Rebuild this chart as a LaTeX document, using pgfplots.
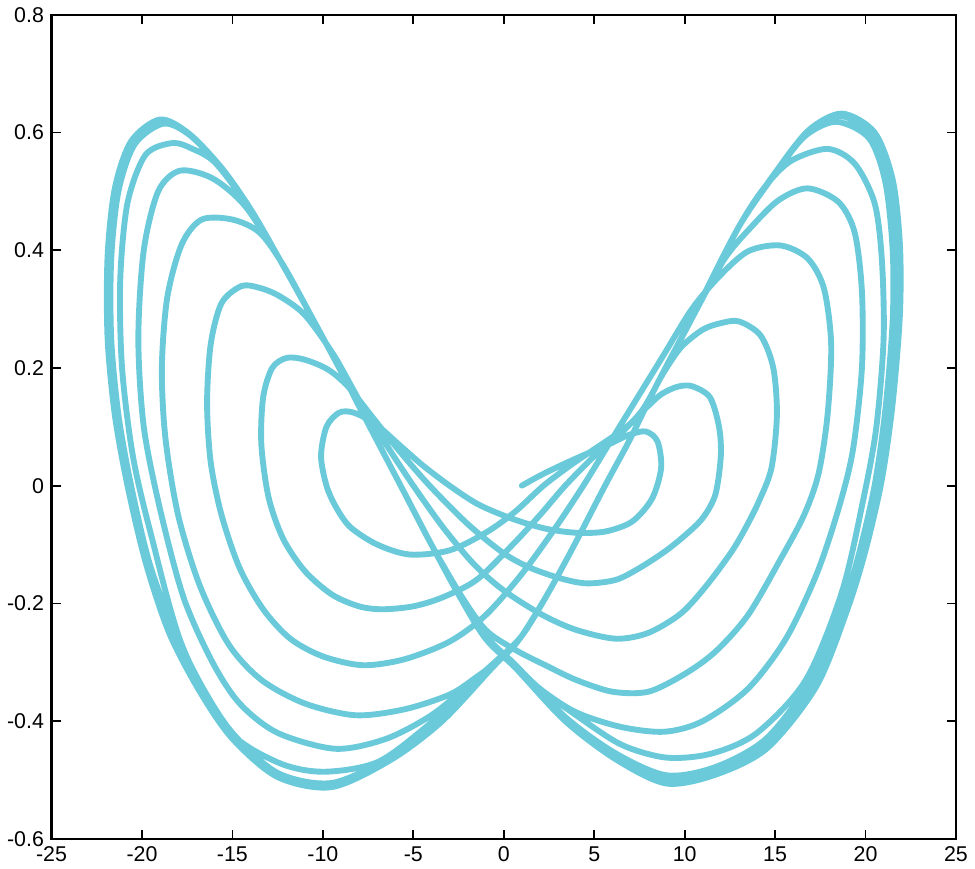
\documentclass[border=0pt]{standalone}
\usepackage{fontspec}
\setmainfont{Liberation Sans}
\usepackage{pgfplots}
\pgfplotsset{compat=1.18}
\definecolor{traj}{RGB}{106,202,218}

\begin{document}
\begin{tikzpicture}
\begin{axis}[
  scale only axis,
  width=14.87cm, height=13.55cm,
  xmin=-25, xmax=25, ymin=-0.6, ymax=0.8,
  xtick={-25,-20,...,25},
  ytick={-0.6,-0.4,...,0.8},
  axis line style={line width=1.1pt, black},
  major tick style={line width=0.8pt, black},
  major tick length=0.15cm,
  tick align=inside,
  tick label style={font=\fontsize{10}{12}\selectfont},
  /pgf/number format/assume math mode=true,
  yticklabel style={/pgf/number format/.cd, fixed, precision=1},
]
% trajectory, read off the picture loop by loop
\addplot[traj, line width=2.75pt, smooth, line join=round, line cap=round] coordinates {
% start and R1
(1.0,0.0) (2.0,0.017) (3.2,0.035) (4.5,0.053) (5.8,0.07) (6.9,0.086) (7.85,0.092) (8.5,0.075) (8.7,0.03) (8.2,-0.022) (7.1,-0.061) (5.6,-0.078) (4.0,-0.08) (2.3,-0.073) (0.45,-0.056) (-1.4,-0.032) (-3.0,0.0) (-4.5,0.035) (-5.8,0.07) (-7.1,0.105)
% L1
(-8.3,0.124) (-9.1,0.124) (-9.8,0.1) (-10.1,0.05) (-9.8,0.0) (-9.3,-0.035) (-8.5,-0.07) (-7.0,-0.1) (-5.2,-0.117) (-3.0,-0.11) (-1.0,-0.08) (0.6,-0.045) (2.2,0.0) (3.8,0.037) (5.4,0.07) (6.8,0.1) (7.8,0.13)
% R2
(8.7,0.155) (9.6,0.168) (10.4,0.169) (11.4,0.15) (11.9,0.1) (12.0,0.05) (11.7,-0.015) (11.0,-0.055) (10.0,-0.085) (8.9,-0.112) (7.5,-0.14) (6.2,-0.16) (4.6,-0.166) (3.2,-0.158) (1.5,-0.14) (0.0,-0.115) (-2.0,-0.065) (-4.1,0.0) (-5.8,0.06) (-7.3,0.118) (-8.6,0.168)
% L2
(-9.7,0.197) (-11.0,0.214) (-12.0,0.217) (-12.8,0.2) (-13.3,0.15) (-13.4,0.07) (-13.0,-0.02) (-12.2,-0.09) (-11.0,-0.145) (-9.5,-0.185) (-8.0,-0.205) (-6.7,-0.21) (-5.0,-0.205) (-3.4,-0.19) (-1.5,-0.16) (0.5,-0.1) (2.0,-0.05) (3.4,0.0) (5.0,0.05) (6.5,0.09) (7.7,0.13) (8.8,0.19)
% R3
(9.8,0.235) (11.0,0.265) (12.0,0.276) (13.0,0.279) (14.2,0.255) (14.9,0.2) (15.1,0.12) (14.8,0.03) (14.1,-0.027) (13.4,-0.07) (12.6,-0.112) (11.2,-0.17) (9.8,-0.217) (8.0,-0.25) (6.2,-0.26) (4.0,-0.245) (2.1,-0.219) (0.0,-0.178) (-1.6,-0.135) (-3.3,-0.073) (-5.0,0.0) (-6.5,0.07) (-7.9,0.14) (-9.4,0.222) (-11.0,0.29)
% L3
(-12.4,0.322) (-13.5,0.336) (-14.5,0.339) (-15.6,0.31) (-16.2,0.24) (-16.4,0.14) (-16.2,0.04) (-15.6,-0.05) (-14.6,-0.14) (-13.3,-0.21) (-11.8,-0.26) (-10.0,-0.29) (-7.8,-0.305) (-5.5,-0.295) (-3.0,-0.265) (-1.0,-0.22) (1.0,-0.15) (2.8,-0.074) (4.4,0.0) (5.8,0.07) (7.2,0.14) (8.8,0.22) (10.4,0.3)
% R4
(11.9,0.355) (13.5,0.398) (15.3,0.408) (16.8,0.386) (17.7,0.335) (18.1,0.24) (17.9,0.12) (17.4,0.02) (16.6,-0.05) (15.3,-0.125) (13.5,-0.22) (11.7,-0.282) (10.0,-0.32) (8.0,-0.35) (6.0,-0.35) (4.0,-0.33) (2.3,-0.305) (0.7,-0.28) (-1.0,-0.245) (-2.5,-0.18) (-4.0,-0.1) (-5.7,0.0) (-7.75,0.12) (-8.7,0.177) (-10.5,0.28) (-12.2,0.375)
% L4
(-13.5,0.43) (-15.0,0.452) (-16.7,0.452) (-17.8,0.41) (-18.6,0.32) (-18.9,0.2) (-18.7,0.08) (-18.0,-0.05) (-16.8,-0.17) (-15.2,-0.27) (-13.4,-0.33) (-11.0,-0.37) (-8.2,-0.39) (-5.5,-0.38) (-3.0,-0.355) (-1.5,-0.325) (0.0,-0.29) (1.0,-0.255) (2.5,-0.18) (4.0,-0.095) (5.6,0.0) (7.0,0.08) (8.55,0.177) (10.5,0.29) (12.2,0.385)
% R5
(13.7,0.44) (15.2,0.485) (16.8,0.505) (18.5,0.482) (19.4,0.43) (19.8,0.33) (19.8,0.2) (19.3,0.06) (18.5,-0.04) (17.3,-0.15) (15.6,-0.26) (13.5,-0.345) (11.0,-0.4) (8.9,-0.418) (6.5,-0.41) (4.0,-0.385) (2.0,-0.345) (0.5,-0.3) (-1.0,-0.255) (-2.5,-0.18) (-4.0,-0.1) (-5.7,0.0) (-7.75,0.12) (-8.7,0.177) (-10.5,0.28) (-12.4,0.385) (-14.3,0.475)
% L5
(-16.1,0.522) (-17.9,0.535) (-19.1,0.5) (-19.9,0.4) (-20.2,0.25) (-19.9,0.1) (-19.0,-0.04) (-17.7,-0.19) (-16.1,-0.3) (-14.6,-0.37) (-12.5,-0.42) (-9.3,-0.447) (-6.5,-0.43) (-4.0,-0.39) (-2.0,-0.34) (-0.5,-0.3) (1.0,-0.255) (2.5,-0.18) (4.0,-0.095) (5.6,0.0) (7.0,0.08) (8.55,0.177) (10.5,0.29) (13.0,0.44) (14.5,0.51)
% R6
(15.9,0.552) (17.9,0.572) (19.4,0.547) (20.5,0.48) (20.9,0.385) (21.0,0.25) (20.6,0.1) (19.9,-0.02) (18.7,-0.18) (16.7,-0.33) (14.0,-0.42) (11.5,-0.455) (9.0,-0.462) (6.5,-0.44) (4.0,-0.39) (2.0,-0.345) (0.4,-0.3) (-1.0,-0.26) (-2.5,-0.185) (-4.0,-0.1) (-5.7,0.0) (-7.75,0.12) (-8.7,0.177) (-10.5,0.28) (-12.4,0.385) (-14.5,0.49) (-16.0,0.55)
% L6
(-17.2,0.572) (-18.3,0.582) (-19.8,0.562) (-20.8,0.48) (-21.2,0.35) (-21.1,0.2) (-20.5,0.05) (-19.5,-0.083) (-17.8,-0.27) (-15.3,-0.413) (-12.5,-0.47) (-10.0,-0.486) (-7.0,-0.47) (-4.3,-0.41) (-2.0,-0.345) (-0.4,-0.3) (1.0,-0.255) (2.5,-0.18) (4.0,-0.095) (5.6,0.0) (7.0,0.08) (8.55,0.177) (10.5,0.29) (13.0,0.44) (15.2,0.538) (16.7,0.595)
% R7
(18.4,0.618) (20.2,0.59) (21.1,0.515) (21.5,0.4) (21.5,0.28) (21.1,0.13) (20.5,0.0) (19.6,-0.12) (18.6,-0.22) (17.0,-0.33) (14.5,-0.43) (11.7,-0.478) (9.0,-0.492) (6.2,-0.455) (3.4,-0.393) (0.66,-0.305) (-1.0,-0.26) (-2.5,-0.185) (-4.0,-0.1) (-5.7,0.0) (-7.75,0.12) (-8.7,0.177) (-10.5,0.28) (-12.4,0.385) (-14.0,0.47) (-15.6,0.538) (-17.3,0.594)
% L7
(-18.8,0.615) (-20.4,0.58) (-21.3,0.5) (-21.7,0.385) (-21.7,0.25) (-21.3,0.12) (-20.6,0.0) (-19.6,-0.13) (-18.3,-0.24) (-16.7,-0.34) (-15.0,-0.42) (-12.5,-0.488) (-9.5,-0.505) (-6.2,-0.46) (-3.4,-0.396) (-0.66,-0.31) (1.0,-0.255) (2.5,-0.18) (4.0,-0.095) (5.6,0.0) (7.0,0.08) (8.55,0.177) (10.5,0.29) (13.0,0.44) (15.2,0.538) (16.8,0.6)
% R8
(18.6,0.628) (20.4,0.595) (21.3,0.52) (21.7,0.41) (21.7,0.29) (21.3,0.14) (20.7,0.01) (19.8,-0.11) (18.8,-0.21) (17.2,-0.335) (14.5,-0.44) (11.7,-0.485) (9.0,-0.5) (6.2,-0.46) (3.4,-0.398) (0.66,-0.31) (-1.0,-0.26) (-2.5,-0.185) (-4.0,-0.1) (-5.7,0.0) (-7.75,0.12) (-8.7,0.177) (-10.5,0.28) (-12.4,0.385) (-14.0,0.47) (-15.6,0.54) (-17.4,0.598)
% L8
(-19.0,0.622) (-20.6,0.585) (-21.5,0.505) (-21.9,0.39) (-21.9,0.25) (-21.5,0.12) (-20.8,0.0) (-19.8,-0.13) (-18.5,-0.25) (-16.8,-0.35) (-15.0,-0.43) (-12.5,-0.495) (-9.5,-0.512) (-6.2,-0.465) (-3.4,-0.4) (-0.66,-0.31) (1.0,-0.255) (2.5,-0.18) (4.0,-0.095) (5.6,0.0) (7.0,0.08) (8.55,0.177) (10.5,0.29) (13.0,0.44) (15.2,0.54) (16.9,0.605)
% R9
(18.7,0.632) (20.5,0.6) (21.5,0.52) (21.9,0.41) (21.9,0.29) (21.5,0.14) (20.9,0.01) (20.0,-0.11) (19.0,-0.21) (17.3,-0.34) (14.6,-0.445) (11.8,-0.49) (9.0,-0.506) (6.2,-0.465) (3.4,-0.4) (0.66,-0.31) (-1.0,-0.26) (-2.5,-0.185)
};
\end{axis}
\end{tikzpicture}
\end{document}
